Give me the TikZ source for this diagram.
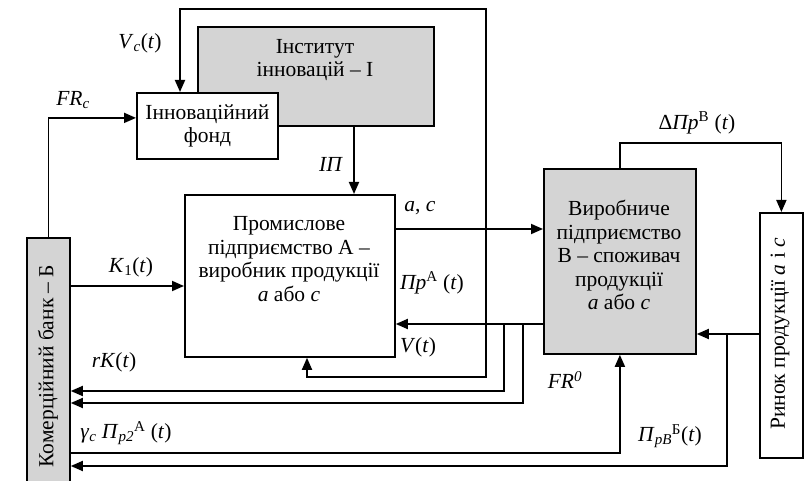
\documentclass[tikz,border=0pt]{standalone}
\usepackage{fontspec}
\setmainfont{Liberation Serif}
\usetikzlibrary{arrows.meta}
\begin{document}
\begin{tikzpicture}[x=1pt,y=-1pt,
  >={Triangle[length=12pt,width=10pt]},
  every node/.style={font=\fontsize{21.5}{23.5}\selectfont},
  box/.style={draw, line width=1.8pt, inner sep=0pt, anchor=north west, align=center},
  shaded/.style={box, fill=black!17},
  line/.style={line width=1.8pt},
  lbl/.style={inner sep=0pt, align=center}]
\clip (0,0) rectangle (807,481);
\fill[white] (0,0) rectangle (807,481);
% boxes
\node[shaded, minimum width=236pt, minimum height=99pt] (inst) at (197,26) {};
\node[lbl] (insttxt) at (315,60) {Інститут\\інновацій – І};
\node[box, fill=white, minimum width=141pt, minimum height=66pt] (fund) at (136,92) {Інноваційний\\фонд};
\node[box, minimum width=210pt, minimum height=162pt] (A) at (184,194) {};
\node[lbl] (Atxt) at (289,259) {Промислове\\підприємство А –\\виробник продукції\\\textit{a} або \textit{c}};
\node[shaded, minimum width=152pt, minimum height=185pt] (B) at (543,168) {};
\node[lbl] (Btxt) at (619,255) {Виробниче\\підприємство\\В – споживач\\продукції\\\textit{a} або \textit{c}};
\node[box, minimum width=43pt, minimum height=245pt] (market) at (759,212) {};
\node[lbl, rotate=90] (markettxt) at (780,334) {Ринок продукції \textit{a} і \textit{c}};
\node[shaded, minimum width=43pt, minimum height=270pt] (bank) at (26,237) {};
\node[lbl, rotate=90] (banktxt) at (48,366) {Комерційний банк – Б};
% helper coordinates
\coordinate (xIP) at (354,0);
\coordinate (xL) at (307,0);
\coordinate (xF) at (180,0);
\coordinate (xR) at (486,0);
\coordinate (xb1) at (504,0);
\coordinate (xb2) at (523,0);
\coordinate (xm) at (727,0);
\coordinate (ytop) at (0,9);
\coordinate (yloop) at (0,377);
\coordinate (yK) at (0,286);
\coordinate (yAC) at (0,229);
\coordinate (yPA) at (0,324);
\coordinate (yb1) at (0,391);
\coordinate (yb2) at (0,403);
\coordinate (yFR) at (0,453);
\coordinate (yM) at (0,334);
\coordinate (yMb) at (0,466);
\coordinate (yD) at (0,143);
% connectors
\draw[line,<->] (A.south -| xL) |- (xR |- yloop) -- (xR |- ytop) -| (fund.north -| xF);
\draw[line,->] (bank.north) |- ([yshift=8pt]fund.west);
\draw[line,->] (inst.south -| xIP) -- (A.north -| xIP);
\draw[line,->] (bank.east |- yK) -- (A.west |- yK);
\draw[line,->] (A.east |- yAC) -- (B.west |- yAC);
\draw[line,->] (B.west |- yPA) -- (A.east |- yPA);
\draw[line,->] (xb1 |- yPA) |- (bank.east |- yb1);
\draw[line,->] (xb2 |- yPA) |- (bank.east |- yb2);
\draw[line,->] (bank.east |- yFR) -| (B.south);
\draw[line,->] (market.west |- yM) -- (B.east |- yM);
\draw[line,->] (xm |- yM) |- (bank.east |- yMb);
\draw[line,->] (B.north) -- (B.north |- yD) -| (market.north);
% labels
\node[lbl] (lVc) at (140,43) {\textit{V}\textsubscript{\textit{c}}(\textit{t})};
\node[lbl] (lFRc) at (73,100) {\textit{FR}\textsubscript{\textit{c}}};
\node[lbl] (lIP) at (331,164) {\textit{ІП}};
\node[lbl] (lac) at (420,208) {\textit{a}, \textit{c}};
\node[lbl] (lD) at (697,123) {Δ\textit{Пр}\textsuperscript{В} (\textit{t})};
\node[lbl] (lK) at (131,267) {\textit{K}\textsubscript{1}(\textit{t})};
\node[lbl] (lrK) at (114,362) {\textit{rK}(\textit{t})};
\node[lbl] (lg) at (126,433) {\textit{γ}\textsubscript{\textit{c}} \textit{П}\textsubscript{\textit{p2}}\textsuperscript{А} (\textit{t})};
\node[lbl] (lPA) at (432,283) {\textit{Пр}\textsuperscript{А} (\textit{t})};
\node[lbl] (lV) at (418,347) {\textit{V}(\textit{t})};
\node[lbl] (lFR0) at (565,380) {\textit{FR}\textsuperscript{\textit{0}}};
\node[lbl] (lPB) at (670,436) {\textit{П}\textsubscript{\textit{pB}}\textsuperscript{Б}(\textit{t})};
\end{tikzpicture}
\end{document}
